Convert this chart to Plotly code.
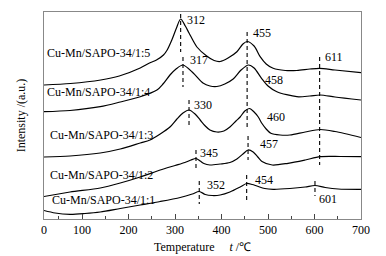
import plotly.graph_objects as go

# ---- data (temperature in °C, intensity in arbitrary units) ----
T5 = [18, 75, 140, 180, 225, 245, 260, 275, 283, 293, 303, 312, 322, 330, 347, 368, 384, 397, 414, 433, 446, 455, 470, 483, 496, 511, 537, 562, 590, 611, 644, 700]
I5 = [134, 135.5, 139, 143, 151, 156, 159, 164, 169, 179, 191, 200, 193, 186, 172, 163, 158.5, 157.5, 161, 167.3, 175, 177.5, 173, 162.3, 155, 150.7, 148.5, 148.5, 150, 150.7, 149, 146.3]

T4 = [18, 74, 139, 182, 225, 261, 274, 289, 302, 317, 339, 360, 375, 390, 407, 425, 442, 458, 470, 486, 500, 519, 562, 590, 612, 644, 700]
I4 = [107.3, 108.5, 112.3, 117, 122.3, 129, 135, 144, 150, 154, 146, 136, 133, 132.5, 135, 140, 149, 154, 151, 140.7, 133, 127.3, 122.3, 123, 124, 122, 119]

T3 = [18, 74, 139, 182, 225, 246, 268, 289, 304, 317, 330, 343, 354, 365, 375, 390, 405, 418, 431, 440, 450, 460, 470, 479, 487, 496, 506, 526, 547, 580, 612, 644, 700]
I3 = [62, 63, 66, 70, 76, 79, 85, 92, 100, 106, 109, 105, 99, 93, 89, 87, 88, 92, 98, 102, 108, 110.5, 107, 102, 95.5, 90, 85.7, 84, 84, 87, 89.5, 87.5, 81.5]

T2 = [18, 74, 139, 182, 225, 268, 300, 321, 334, 345, 354, 362, 375, 397, 418, 433, 446, 457, 468, 478, 487, 509, 543, 580, 612, 655, 700]
I2 = [22.5, 27, 31, 36, 42, 49, 53.5, 56.5, 59, 60.5, 58, 55.5, 54, 55, 56.5, 60, 65, 69, 67, 62, 57.5, 54, 55.7, 59, 62.3, 62.5, 62.3]

T1 = [18, 42, 74, 106, 139, 182, 225, 268, 311, 337, 352, 365, 380, 397, 418, 440, 454, 466, 476, 493, 511, 547, 580, 601, 623, 651, 700]
I1 = [8.5, 6, 4.7, 5.5, 7, 10.5, 14, 17.5, 21.5, 25, 27.5, 24.5, 23.5, 24, 27, 32, 35.5, 34.5, 33, 30.5, 29.7, 30.5, 32, 33.5, 31.5, 30, 29.7]

series_names = ["Cu-Mn/SAPO-34/1:5", "Cu-Mn/SAPO-34/1:4", "Cu-Mn/SAPO-34/1:3",
                "Cu-Mn/SAPO-34/1:2", "Cu-Mn/SAPO-34/1:1"]
series_label_y = [166, 127.3, 84, 44, 19]

# peak marker dashed lines: temperature, top, bottom
peak_T = [312, 317, 330, 345, 352, 455, 457, 454, 611, 601]
peak_top = [205, 162, 119, 69, 38, 187, 83, 44, 162, 38]
peak_bot = [167, 132, 93, 49, 15, 91, 59, 19, 54, 23]

# peak labels
plabel_text = ["312", "317", "330", "345", "352", "455", "458", "460", "457", "454", "611", "601"]
plabel_T = [312, 317, 330, 345, 352, 455, 455, 455, 457, 454, 611, 601]
plabel_y = [199, 159, 114, 66, 34, 186, 139, 102, 75, 39, 162, 20]
plabel_dx = [4, 5, 3, 2, 6, 4, 16, 18, 10, 6, 3, 2]

x_ticks = [100, 200, 300, 400, 500, 600, 700]

FONT = "Liberation Serif, Times New Roman, serif"

fig = go.Figure()
for T, I in [(T5, I5), (T4, I4), (T3, I3), (T2, I2), (T1, I1)]:
    fig.add_trace(go.Scatter(x=T, y=I, mode="lines",
                             line=dict(color="black", width=1.2, shape="spline", smoothing=0.8),
                             showlegend=False, hoverinfo="skip"))

for t, a, b in zip(peak_T, peak_top, peak_bot):
    fig.add_trace(go.Scatter(x=[t, t], y=[a, b], mode="lines",
                             line=dict(color="black", width=1.1, dash="4px,3px"),
                             showlegend=False, hoverinfo="skip"))

ann = []
for name, y, dx in zip(series_names, series_label_y, [1, 1, 4, 4, 6]):
    ann.append(dict(xref="x domain", x=0, yref="y", y=y, text=name, showarrow=False,
                    xanchor="left", yanchor="middle", xshift=dx,
                    font=dict(family=FONT, size=12, color="black")))
for txt, t, y, dx in zip(plabel_text, plabel_T, plabel_y, plabel_dx):
    ann.append(dict(xref="x", x=t, yref="y", y=y, text=txt, showarrow=False,
                    xanchor="left", yanchor="middle", xshift=dx,
                    font=dict(family=FONT, size=12, color="black")))
# zero label at left edge of axis
ann.append(dict(xref="x domain", x=0, yref="y domain", y=0, text="0", showarrow=False,
                xanchor="center", yanchor="top", yshift=-2,
                font=dict(family=FONT, size=12, color="black")))
# axis titles
ann.append(dict(xref="paper", x=0.5, yref="paper", y=-0.135, text="Temperature\u00a0\u00a0\u00a0\u00a0\u00a0<i>t</i> /\u2103",
                showarrow=False, xanchor="center", yanchor="middle",
                font=dict(family=FONT, size=12, color="black")))
ann.append(dict(xref="paper", x=-0.073, yref="paper", y=0.5, text="Intensity /(a.u.)",
                showarrow=False, xanchor="center", yanchor="middle", textangle=-90,
                font=dict(family=FONT, size=12, color="black")))

# page body has an 8px margin; size/margins compensate for it
fig.update_layout(
    width=378, height=248,
    margin=dict(l=36, r=25, t=4, b=37),
    paper_bgcolor="white", plot_bgcolor="white",
    annotations=ann,
    xaxis=dict(range=[18, 700], tickmode="array", tickvals=x_ticks,
               ticks="inside", ticklen=5, tickcolor="#444", tickwidth=1,
               minor=dict(ticks="inside", tickvals=[50, 150, 250, 350, 450, 550, 650],
                          ticklen=3, tickcolor="#444"),
               showline=True, linecolor="#888", linewidth=1, mirror=True,
               showgrid=False, zeroline=False,
               tickfont=dict(family=FONT, size=12, color="black")),
    yaxis=dict(range=[0, 207], showticklabels=False, ticks="",
               showline=True, linecolor="#888", linewidth=1, mirror=True,
               showgrid=False, zeroline=False),
)

fig.write_html("out.html")
